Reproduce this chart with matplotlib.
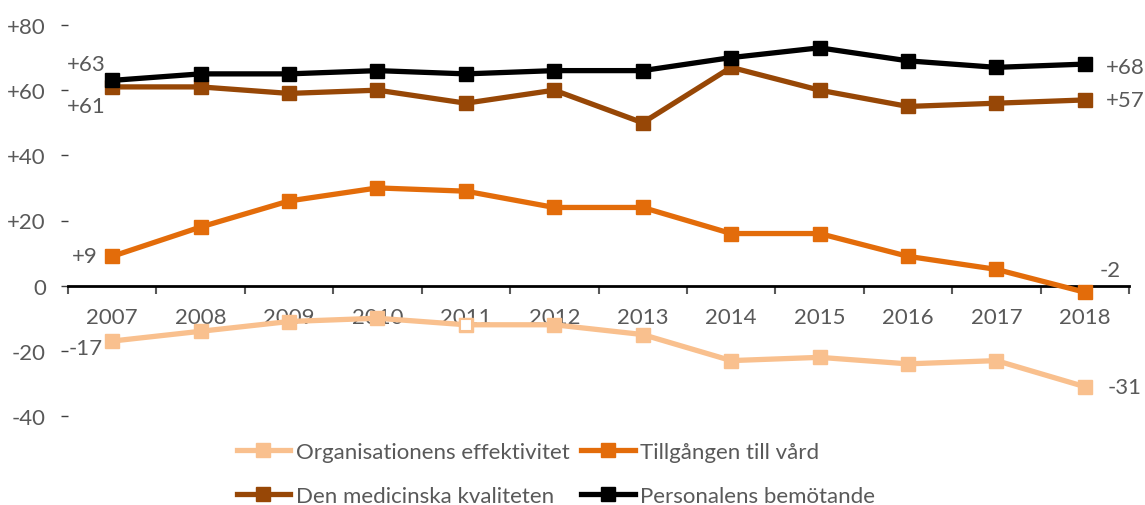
"""
Index chart: patient opinions on healthcare 2007-2018, four series.
"""
import numpy as np
import matplotlib
matplotlib.use('Agg')
import matplotlib.pyplot as plt
from matplotlib.ticker import FixedLocator

plt.rcParams.update({
    'font.family': ['Lato', 'DejaVu Sans'],
    'font.size': 16,
    'text.color': '#595959',
    'xtick.color': '#595959',
    'ytick.color': '#595959',
})

years = ['2007', '2008', '2009', '2010', '2011', '2012',
         '2013', '2014', '2015', '2016', '2017', '2018']

org_eff = [-17, -14, -11, -10, -12, -12, -15, -23, -22, -24, -23, -31]
tillgang = [9, 18, 26, 30, 29, 24, 24, 16, 16, 9, 5, -2]
med_kval = [61, 61, 59, 60, 56, 60, 50, 67, 60, 55, 56, 57]
bemot = [63, 65, 65, 66, 65, 66, 66, 70, 73, 69, 67, 68]

names = ['Organisationens effektivitet', 'Tillgången till vård',
         'Den medicinska kvaliteten', 'Personalens bemötande']
colors = ['#F9C08E', '#E36C0A', '#974706', '#000000']
hollow_years = ['2011']   # point in the light series drawn with an open marker

yticks = [80, 60, 40, 20, 0, -20, -40]
ytick_labels = ['+80', '+60', '+40', '+20', '0', '-20', '-40']

fig = plt.figure(figsize=(11.45, 5.06), dpi=100)
ax = fig.add_axes([68 / 1145, 1 - 417 / 506, (1129 - 68) / 1145, (417 - 26) / 506])

x = np.arange(len(years))
series = [org_eff, tillgang, med_kval, bemot]
handles = []
for i, (vals, col, name) in enumerate(zip(series, colors, names)):
    h, = ax.plot(x, vals, color=col, lw=3.8, marker='s', ms=10.5,
                 mec=col, mfc=col, label=name, zorder=3 + i,
                 solid_joinstyle='miter')
    handles.append(h)

# open marker on the light series
hidx = [years.index(y) for y in hollow_years]
ax.plot(x, org_eff, ls='none', marker='s', ms=9, mfc='white', mec=colors[0],
        mew=1.5, markevery=hidx, zorder=3.5)

ax.set_xlim(-0.5, len(years) - 0.5)
ax.set_ylim(-40, 80)

for s in ['top', 'right', 'left']:
    ax.spines[s].set_visible(False)
ax.spines['bottom'].set_position(('data', 0))
ax.spines['bottom'].set_linewidth(2)
ax.spines['bottom'].set_zorder(2)

ax.set_xticks(x)
ax.set_xticklabels(years)
ax.xaxis.set_minor_locator(FixedLocator(np.arange(-0.5, len(years), 1.0)))
ax.tick_params(axis='x', which='major', length=0, pad=15, labelsize=16)
ax.tick_params(axis='x', which='minor', length=6, width=1.5, direction='out')
for lbl in ax.get_xticklabels():
    lbl.set_bbox(dict(facecolor='white', edgecolor='none', pad=0))
    lbl.set_zorder(10)

ax.set_yticks(yticks)
ax.set_yticklabels(ytick_labels)
ax.tick_params(axis='y', length=5, width=1, pad=11, color='#404040', labelsize=16)

# end-point data labels
lab_kw = dict(textcoords='offset points', ha='center', va='center', fontsize=16,
              color='#595959', zorder=10)
ax.annotate(f'+{bemot[0]}', (0, bemot[0]), xytext=(-19, 12), **lab_kw)
ax.annotate(f'+{med_kval[0]}', (0, med_kval[0]), xytext=(-19, -14), **lab_kw)
ax.annotate(f'+{tillgang[0]}', (0, tillgang[0]), xytext=(-20, 0), **lab_kw)
ax.annotate(f'{org_eff[0]}', (0, org_eff[0]), xytext=(-19, -5), **lab_kw)
n = len(years) - 1
ax.annotate(f'+{bemot[n]}', (n, bemot[n]), xytext=(29, -2), **lab_kw)
ax.annotate(f'+{med_kval[n]}', (n, med_kval[n]), xytext=(29, 0), **lab_kw)
ax.annotate(f'{tillgang[n]}', (n, tillgang[n]), xytext=(18, 16), **lab_kw)
ax.annotate(f'{org_eff[n]}', (n, org_eff[n]), xytext=(29, 0), **lab_kw)

# legend is filled column by column, reorder so rows read as in the original
leg_order = [0, 2, 1, 3]
leg = fig.legend(handles=[handles[k] for k in leg_order], loc='center',
                 bbox_to_anchor=(556 / 1145, 1 - 475 / 506),
                 ncol=2, frameon=False, fontsize=16, handlelength=2.4,
                 handletextpad=0.25, columnspacing=0.55, labelspacing=1.1)
for t in leg.get_texts():
    t.set_color('#595959')

fig.savefig('out.png', dpi=100)
